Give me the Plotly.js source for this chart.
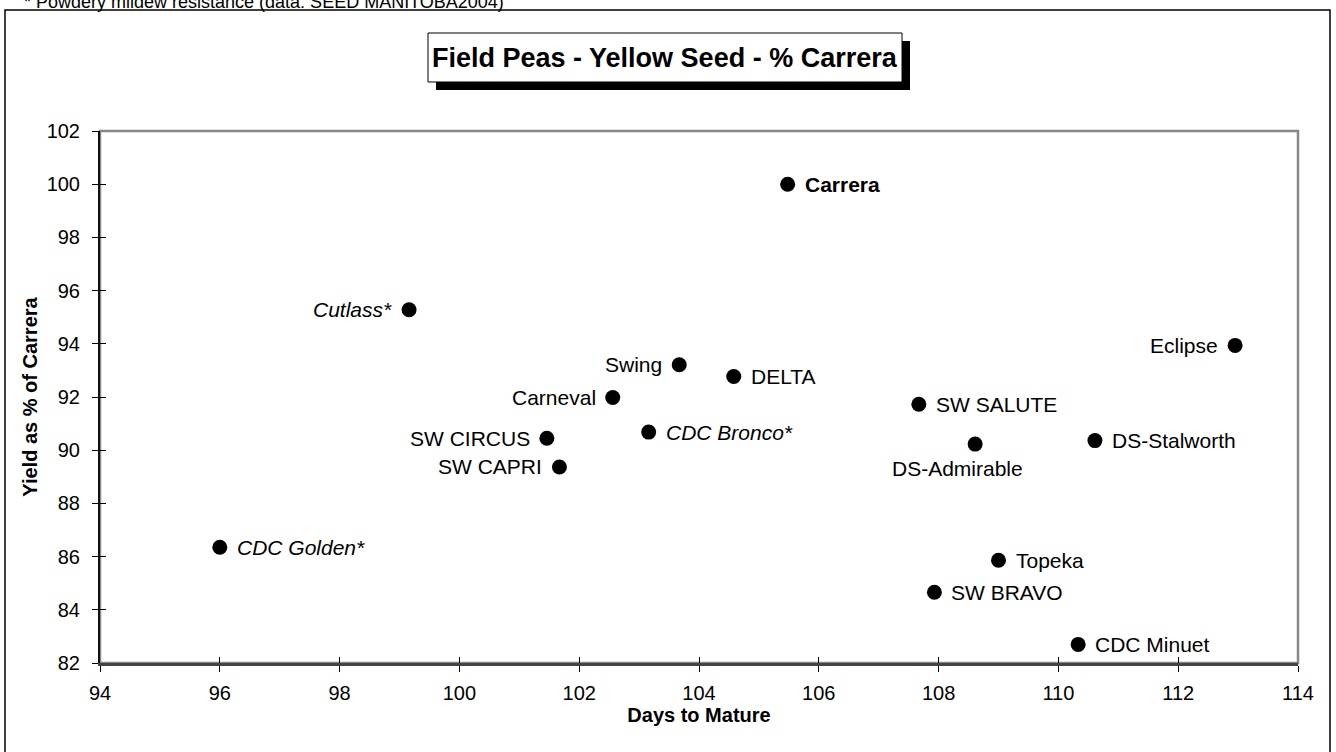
<!DOCTYPE html>
<html>
<head>
<meta charset="utf-8">
<script src="https://cdn.plot.ly/plotly-3.0.1.min.js"></script>
<style>html,body{margin:0;padding:0;background:#fff;}#chart{width:1336px;height:752px;}</style>
</head>
<body>
<div id="chart"></div>
<script>
// ---- data ----
var varieties = ["Carrera","Cutlass*","Eclipse","Swing","DELTA","Carneval","SW SALUTE","CDC Bronco*","SW CIRCUS","DS-Stalworth","DS-Admirable","SW CAPRI","CDC Golden*","Topeka","SW BRAVO","CDC Minuet"];
var daysToMature = [105.48, 99.16, 112.95, 103.67, 104.58, 102.56, 107.67, 103.16, 101.46, 110.61, 108.61, 101.67, 96.0, 109.0, 107.93, 110.33];
var yieldPct = [100.0, 95.28, 93.94, 93.21, 92.77, 91.98, 91.73, 90.68, 90.45, 90.36, 90.23, 89.37, 86.35, 85.86, 84.66, 82.70];
var xTickVals = [94,96,98,100,102,104,106,108,110,112,114];
var yTickVals = [82,84,86,88,90,92,94,96,98,100,102];

var chartTitle = "Field Peas - Yellow Seed - % Carrera";
var xTitle = "Days to Mature";
var yTitle = "Yield as % of Carrera";
var footNote = "* Powdery mildew resistance (data: SEED MANITOBA2004)";

// ---- label placement / style (presentation only) ----
var leftLabels = {"Cutlass*":1,"Eclipse":1,"Swing":1,"Carneval":1,"SW CIRCUS":1,"SW CAPRI":1};
var belowLabels = {"DS-Admirable":1};
var italicLabels = {"Cutlass*":1,"CDC Bronco*":1,"CDC Golden*":1};
var boldLabels = {"Carrera":1};

var FONT = "'Liberation Sans', Arial, Helvetica, sans-serif";

var annotations = varieties.map(function(name, i){
  var txt = name;
  if (italicLabels[name]) txt = "<i>" + txt + "</i>";
  if (boldLabels[name]) txt = "<b>" + txt + "</b>";
  var a = {x: daysToMature[i], y: yieldPct[i], xref:'x', yref:'y', text: txt, showarrow:false,
           font:{family:FONT, size:21, color:'#000'}, yanchor:'middle'};
  if (belowLabels[name]) { a.xanchor='center'; a.xshift=-18; a.yshift=-24; }
  else if (leftLabels[name]) { a.xanchor='right'; a.xshift=-15; }
  else { a.xanchor='left'; a.xshift=15; }
  return a;
});

annotations.push({xref:'paper', yref:'paper', x:0.47162, y:1.13722, xanchor:'center', yanchor:'middle',
  text:"<b>"+chartTitle+"</b>", showarrow:false, font:{family:FONT, size:27, color:'#000'}});
annotations.push({xref:'paper', yref:'paper', x:-0.0651, y:1.2425, xanchor:'left', yanchor:'middle',
  text:footNote, showarrow:false, font:{family:FONT, size:18, color:'#000'}});

var traces = [
  {type:'scatter', mode:'markers', x: daysToMature, y: yieldPct, text: varieties,
   marker:{size:15, color:'#000'}, hoverinfo:'text+x+y', cliponaxis:false},
  {type:'scatter', mode:'markers', x:[], y:[], xaxis:'x2', yaxis:'y2', hoverinfo:'skip'}
];

var axBase = {showgrid:false, zeroline:false, ticks:'outside', ticklen:6, tickwidth:1, tickcolor:'#000',
  tickfont:{family:FONT, size:20, color:'#000'}, showline:true};

var layout = {
  width:1336, height:752,
  margin:{l:100, r:38, t:131, b:89},
  paper_bgcolor:'#fff', plot_bgcolor:'#fff',
  showlegend:false,
  font:{family:FONT, color:'#000'},
  xaxis: Object.assign({}, axBase, {range:[94,114], tickvals:xTickVals, linecolor:'#444', linewidth:2.5,
    ticklabelstandoff:4,
    title:{text:"<b>"+xTitle+"</b>", font:{family:FONT, size:20, color:'#000'}, standoff:1}}),
  yaxis: Object.assign({}, axBase, {range:[82,102], tickvals:yTickVals, linecolor:'#111', linewidth:2,
    ticklabelstandoff:8,
    title:{text:"<b>"+yTitle+"</b>", font:{family:FONT, size:20, color:'#000'}, standoff:4}}),
  xaxis2: {overlaying:'x', range:[94,114], tickvals:xTickVals, ticks:'inside', ticklen:6, tickcolor:'#000',
    showticklabels:false, showgrid:false, zeroline:false, showline:false, side:'bottom'},
  yaxis2: {overlaying:'y', range:[82,102], tickvals:yTickVals, ticks:'inside', ticklen:6, tickcolor:'#000',
    showticklabels:false, showgrid:false, zeroline:false, showline:false, side:'left'},
  shapes:[
    {type:'rect', xref:'paper', yref:'paper', x0:0, x1:1, y0:0, y1:1, line:{color:'#888', width:2.5}, layer:'below'},
    {type:'rect', xref:'paper', yref:'paper', x0:-0.0793, x1:1.02671, y0:-0.2575, y1:1.2274, line:{color:'#000', width:1.5}},
    {type:'rect', xref:'paper', yref:'paper', x0:0.28047, x1:0.67613, y0:1.07707, y1:1.16917, fillcolor:'#000', line:{width:0}},
    {type:'rect', xref:'paper', yref:'paper', x0:0.27379, x1:0.66945, y0:1.09211, y1:1.18421, fillcolor:'#fff', line:{color:'#000', width:1}}
  ],
  annotations: annotations
};

Plotly.newPlot('chart', traces, layout, {displayModeBar:false, staticPlot:true});
</script>
</body>
</html>
